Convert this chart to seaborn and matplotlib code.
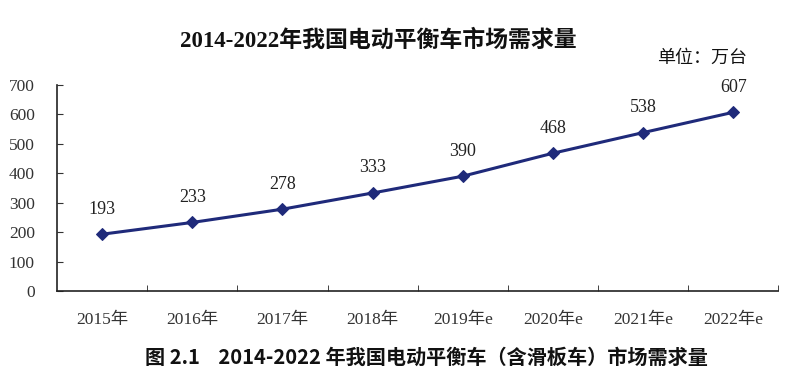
import numpy as np
import pandas as pd
import matplotlib
matplotlib.use("Agg")
import matplotlib.pyplot as plt
import seaborn as sns

# Data
years = ['2015年', '2016年', '2017年', '2018年', '2019年e', '2020年e', '2021年e', '2022年e']
demand = [193, 233, 278, 333, 390, 468, 538, 607]

title = '2014-2022年我国电动平衡车市场需求量'
unit = '单位：万台'
caption = '图 2.1    2014-2022 年我国电动平衡车（含滑板车）市场需求量'

sns.set_style("ticks")
plt.rcParams['font.family'] = ['Liberation Serif', 'Noto Sans CJK SC', 'DejaVu Sans']

df = pd.DataFrame({'year': years, 'demand': demand})
df['pos'] = np.arange(len(years))

fig = plt.figure(figsize=(8.04, 3.86), dpi=100)
ax = fig.add_axes([0.071, 0.246, 0.897, 0.534])

line_color = '#1f2a7a'
sns.lineplot(data=df, x='pos', y='demand', ax=ax, color=line_color, linewidth=2.2,
             marker='D', markersize=6.5, markeredgecolor=line_color)

for x, v in zip(df['pos'], df['demand']):
    ax.annotate(str(v), (x, v), xytext=(0, 12), textcoords='offset points',
                ha='center', va='bottom', fontsize=13, color='#222222')

ax.set_xlim(-0.5, len(years) - 0.5)
ax.set_ylim(0, 700)
ax.set_yticks(range(0, 701, 100))
ax.set_xticks(np.arange(len(years)))
ax.set_xticklabels(years)
ax.set_xticks(np.arange(len(years)) + 0.5, minor=True)
ax.tick_params(axis='x', which='major', length=0, pad=15, labelsize=12.5, colors='#333333')
ax.tick_params(axis='x', which='minor', length=4, direction='in', color='#222222')
ax.tick_params(axis='y', length=4, direction='in', labelsize=12.5, colors='#333333', pad=16)
ax.set_xlabel('')
ax.set_ylabel('')
for s in ['top', 'right']:
    ax.spines[s].set_visible(False)
ax.spines['left'].set_color('#222222')
ax.spines['bottom'].set_color('#222222')
ax.spines['left'].set_linewidth(1.2)
ax.spines['bottom'].set_linewidth(1.2)

fig.text(0.471, 0.895, title, ha='center', va='center', fontsize=16.5, fontweight='bold',
         family=['Liberation Serif', 'Noto Sans CJK SC'], color='#111111')
fig.text(0.873, 0.85, unit, ha='center', va='center', fontsize=13,
         family=['Noto Sans CJK SC'], color='#111111')
fig.text(0.53, 0.075, caption, ha='center', va='center', fontsize=14.5, fontweight='semibold',
         family=['Noto Sans CJK SC'], color='#111111')

fig.savefig('out.png', dpi=100)
